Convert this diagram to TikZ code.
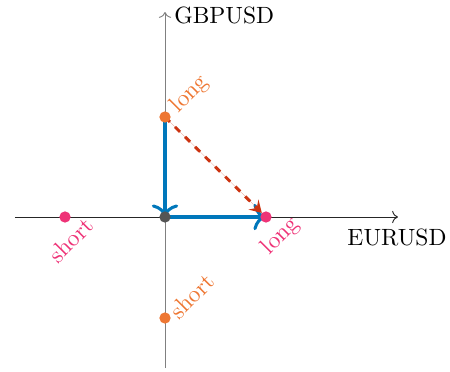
\documentclass[tikz,border=0pt]{standalone}
\usetikzlibrary{arrows.meta}
\definecolor{tolblue}{HTML}{0077BB}
\definecolor{tolred}{HTML}{CC3311}
\definecolor{tolorange}{HTML}{EE7733}
\definecolor{tolmagenta}{HTML}{EE3377}
\definecolor{darkdot}{HTML}{555555}
\tikzset{
  dot/.style={circle, inner sep=0pt, minimum size=4.8pt, fill=#1},
  move/.style={-{To[scale=1.2]}, draw=tolblue, line width=1.3pt},
  diag/.style={-{Stealth[length=5pt, width=6pt, inset=2pt]}, draw=tolred, fill=tolred, line width=1.25pt, dashed},
  lab/.style={rotate=45, text=#1, inner sep=0pt},
  axis/.style={->, line width=0.4pt}
}
\begin{document}
\begin{tikzpicture}[x=0.425pt, y=-0.425pt]
\useasboundingbox (0,0) rectangle (450,371);
% axes
\coordinate (xs) at (15,217);
\coordinate (xe) at (398,217);
\coordinate (ys) at (165,368);
\coordinate (ye) at (165,12);
\draw[axis, black!85] (xs) -- (xe);
\draw[axis, gray] (ys) -- (ye);
\node[anchor=north] (xl) at (397,221) {EURUSD};
\node[anchor=west] (yl) at (166,15) {GBPUSD};
% points
\coordinate (O) at (165,217);
\coordinate (GLc) at (165,117);
\coordinate (GSc) at (165,318);
\coordinate (ESc) at (65,217);
\coordinate (ELc) at (266,217);
% arrows
\draw[move] (GLc) -- (O);
\draw[move] (O) -- (ELc);
\draw[diag, shorten >=2.5pt] (GLc) -- (ELc);
% dots
\node[dot=darkdot] (o) at (O) {};
\node[dot=tolorange] (gl) at (GLc) {};
\node[dot=tolorange] (gs) at (GSc) {};
\node[dot=tolmagenta] (es) at (ESc) {};
\node[dot=tolmagenta] (el) at (ELc) {};
% labels
\node[lab=tolorange] (gll) at (190,94) {long};
\node[lab=tolorange] (gsl) at (192,296) {short};
\node[lab=tolmagenta] (esl) at (71,240) {short};
\node[lab=tolmagenta] (ell) at (281,236) {long};
\end{tikzpicture}
\end{document}
